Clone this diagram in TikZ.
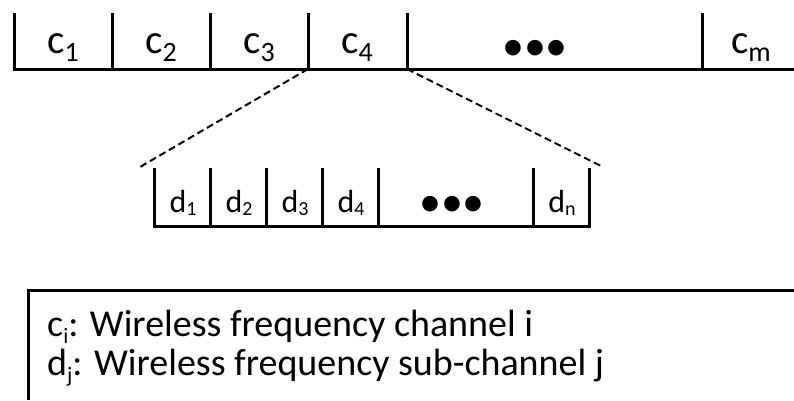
\documentclass[tikz,border=0pt]{standalone}
\usepackage{fontspec}
\setmainfont{Carlito}
\newcommand\csub[1]{\raisebox{-8pt}{\fontsize{28}{28}\selectfont#1}}
\newcommand\dsub[1]{\raisebox{-3pt}{\fontsize{20}{20}\selectfont#1}}
\newcommand\tsub[1]{\raisebox{-7pt}{\fontsize{22}{22}\selectfont#1}}
\begin{document}
\begin{tikzpicture}[x=1pt, y=-1pt, line cap=butt,
                    bar/.style={line width=3pt},
                    zoomline/.style={line width=2pt, dash pattern=on 7pt off 4pt},
                    clabel/.style={inner sep=0pt, anchor=base, font=\fontsize{41}{41}\selectfont},
                    dlabel/.style={inner sep=0pt, anchor=base, font=\fontsize{32}{32}\selectfont},
                    dots/.style={inner sep=0pt, font=\fontsize{44}{44}\selectfont},
                    legend/.style={inner sep=0pt, anchor=base west, align=left,
                                   font=\fontsize{38}{39}\selectfont}
                    ]
\useasboundingbox (0,0) rectangle (794,400);

%channels
\draw [bar] (14,13) -- (14,69) -- (794,69);
\foreach \x in {112,210,308,407,702}
    \draw [bar] (\x,13) -- (\x,69);
\foreach \x/\i in {63/1,161/2,259/3,357/4}
    \node [clabel] (c\i) at (\x,53) {c\csub{\i}};
\node [dots] (cdots) at (535,50) {•••};
\node [clabel] (cm) at (751,53) {c\csub{m}};

%sub-channels
\draw [bar] (154,168) -- (154,226) -- (589,226) -- (589,168);
\foreach \x in {210,266,322,378,533}
    \draw [bar] (\x,168) -- (\x,226);
\foreach \x/\i in {183/1,239/2,295/3,351/4}
    \node [dlabel] (d\i) at (\x,212) {d\dsub{\i}};
\node [dots] (ddots) at (452,206) {•••};
\node [dlabel] (dn) at (562,212) {d\dsub{n}};

%zoom
\coordinate (c4l) at (308,69);
\coordinate (c4r) at (407,69);
\coordinate (zl) at (140,167);
\coordinate (zr) at (603,167);
\draw [zoomline] (c4l) -- (zl);
\draw [zoomline] (c4r) -- (zr);

%legend
\draw [bar] (794,290) -- (28,290) -- (28,400);
\node [legend] (key) at (47,375) {c\tsub{i}: Wireless frequency channel i\\
                                  d\tsub{j}: Wireless frequency sub-channel j};
\end{tikzpicture}
\end{document}
